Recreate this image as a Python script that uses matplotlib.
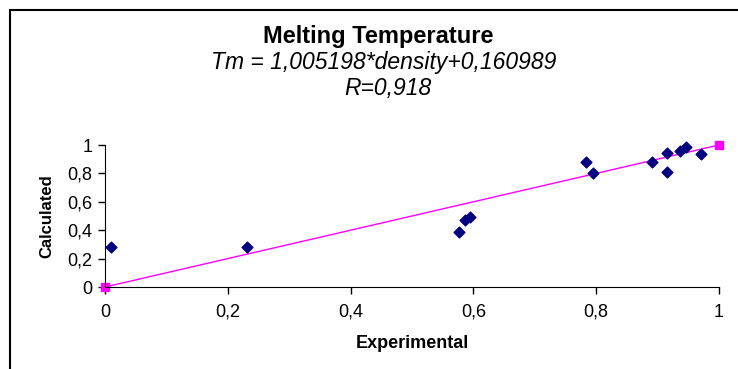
import numpy as np
import matplotlib.pyplot as plt
from matplotlib.lines import Line2D

plt.rcParams['font.family'] = ['Liberation Sans', 'DejaVu Sans']

# experimental vs calculated (normalised)
exp_vals = [0.010, 0.231, 0.577, 0.587, 0.594, 0.784, 0.794, 0.891, 0.915, 0.915, 0.936, 0.946, 0.971]
calc_vals = [0.28, 0.28, 0.385, 0.472, 0.491, 0.882, 0.80, 0.882, 0.941, 0.81, 0.96, 0.988, 0.934]
line_x = [0, 1]
line_y = [0, 1]
ticks = [0, 0.2, 0.4, 0.6, 0.8, 1]
tick_labels = ['0', '0,2', '0,4', '0,6', '0,8', '1']

fig = plt.figure(figsize=(7.38, 3.69), dpi=100)

# outer frame (top and left edges visible)
fig.add_artist(Line2D([9.5/738, 9.5/738], [0, 1 - 10/369], color='black', lw=1.5))
fig.add_artist(Line2D([9.5/738, 1], [1 - 10/369, 1 - 10/369], color='black', lw=1.5))

ax = fig.add_axes([105/738, 82/369, 614/738, 142/369])
ax.plot(line_x, line_y, color='#ff00ff', lw=1, marker='s', ms=6, clip_on=False, zorder=2)
ax.scatter(exp_vals, calc_vals, marker='D', s=30, color='#000080', zorder=3, clip_on=False)

ax.set_xlim(0, 1)
ax.set_ylim(0, 1)
ax.set_xticks(ticks)
ax.set_xticklabels(tick_labels)
ax.set_yticks(ticks)
ax.set_yticklabels(tick_labels)
ax.spines['top'].set_visible(False)
ax.spines['right'].set_visible(False)
ax.tick_params(axis='both', labelsize=13, direction='out', length=5, width=1, colors='black')
ax.tick_params(axis='x', pad=7)
ax.tick_params(axis='y', pad=4)

ax.set_xlabel('Experimental', fontsize=13, fontweight='bold', labelpad=10)
ax.set_ylabel('Calculated', fontsize=12, fontweight='bold', labelpad=9)

fig.text(378/738, 1 - 37/369, 'Melting Temperature', ha='center', va='center', fontsize=17, fontweight='bold')
fig.text(384/738, 1 - 63/369, 'Tm = 1,005198*density+0,160989', ha='center', va='center', fontsize=16.5, style='italic')
fig.text(388/738, 1 - 88/369, 'R=0,918', ha='center', va='center', fontsize=16.5, style='italic')

fig.savefig('out.png', dpi=100)
